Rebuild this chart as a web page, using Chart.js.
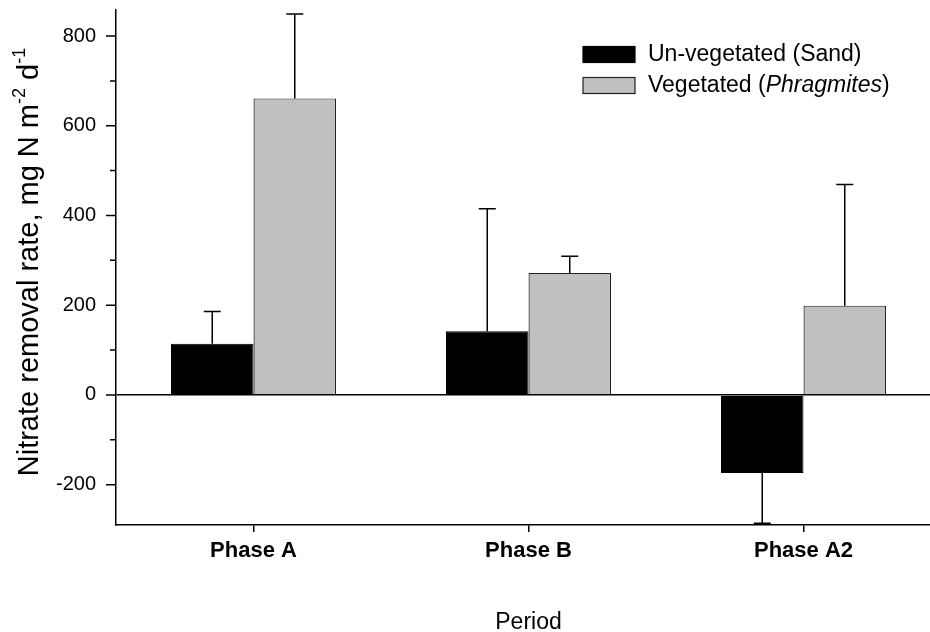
<!DOCTYPE html>
<html lang="en">
<head>
    <meta charset="UTF-8">
    <title>Nitrate removal rate</title>
    <style>
        html, body { margin: 0; padding: 0; background: #fff; overflow: hidden; }
        #wrap { width: 941px; height: 632px; }
    </style>
</head>
<body>
    <div id="wrap"><canvas id="myChart"></canvas></div>

    <script src="https://cdn.jsdelivr.net/npm/chart.js@4/dist/chart.umd.min.js"></script>
    <script>
    // data
    const categories = ['Phase A', 'Phase B', 'Phase A2'];
    const sandValues = [114, 142, -174];
    const sandErrors = [72, 273, 112];
    const reedValues = [661, 272, 199];
    const reedErrors = [188, 37, 270];
    const yTicks = [-200, 0, 200, 400, 600, 800];
    const yMinorTicks = [-100, 100, 300, 500, 700];

    const FONT = '"Liberation Sans", Arial, Helvetica, sans-serif';

    // one-sided error bars, drawn away from zero
    const errorBarPlugin = {
        id: 'errorBars',
        afterDatasetsDraw(chart) {
            const ctx = chart.ctx;
            const y = chart.scales.y;
            ctx.save();
            ctx.strokeStyle = '#000';
            ctx.lineWidth = 1.5;
            chart.data.datasets.forEach(function (ds, i) {
                const meta = chart.getDatasetMeta(i);
                meta.data.forEach(function (bar, j) {
                    const v = ds.data[j];
                    const e = ds.errors[j];
                    const end = v >= 0 ? v + e : v - e;
                    const y0 = y.getPixelForValue(v);
                    const y1 = y.getPixelForValue(end);
                    ctx.beginPath();
                    ctx.moveTo(bar.x, y0);
                    ctx.lineTo(bar.x, y1);
                    ctx.moveTo(bar.x - 8.5, y1);
                    ctx.lineTo(bar.x + 8.5, y1);
                    ctx.stroke();
                });
            });
            ctx.restore();
        }
    };

    // major / minor tick marks on the y axis
    const yTickPlugin = {
        id: 'yTickMarks',
        afterDraw(chart) {
            const ctx = chart.ctx;
            const y = chart.scales.y;
            const left = chart.chartArea.left;
            ctx.save();
            ctx.strokeStyle = '#000';
            ctx.lineWidth = 1.5;
            ctx.beginPath();
            yTicks.forEach(function (v) {
                const p = y.getPixelForValue(v);
                ctx.moveTo(left - 10, p);
                ctx.lineTo(left, p);
            });
            yMinorTicks.forEach(function (v) {
                const p = y.getPixelForValue(v);
                ctx.moveTo(left - 6, p);
                ctx.lineTo(left, p);
            });
            ctx.stroke();
            ctx.restore();
        }
    };

    // rotated y title with superscripts
    const yTitlePlugin = {
        id: 'yTitle',
        afterDraw(chart) {
            const ctx = chart.ctx;
            const parts = [
                ['Nitrate removal rate, mg N m', false],
                ['-2', true],
                [' d', false],
                ['-1', true]
            ];
            const big = '29px ' + FONT;
            const small = '18px ' + FONT;
            ctx.save();
            let total = 0;
            parts.forEach(function (p) {
                ctx.font = p[1] ? small : big;
                total += ctx.measureText(p[0]).width;
            });
            ctx.translate(30, 262);
            ctx.rotate(-Math.PI / 2);
            ctx.fillStyle = '#000';
            ctx.textBaseline = 'middle';
            let x = -total / 2;
            parts.forEach(function (p) {
                ctx.font = p[1] ? small : big;
                ctx.fillText(p[0], x, p[1] ? -10 : 0);
                x += ctx.measureText(p[0]).width;
            });
            ctx.restore();
        }
    };

    // legend with italic genus name
    const legendPlugin = {
        id: 'customLegend',
        afterDraw(chart) {
            const ctx = chart.ctx;
            const rows = [
                [['Un-vegetated (Sand)', '']],
                [['Vegetated (', ''], ['Phragmites', 'italic '], [')', '']]
            ];
            ctx.save();
            ctx.textBaseline = 'middle';
            rows.forEach(function (row, i) {
                const ds = chart.data.datasets[i];
                const cy = 54.5 + i * 31;
                ctx.fillStyle = ds.backgroundColor;
                ctx.fillRect(583, cy - 8, 52, 16);
                ctx.strokeStyle = ds.borderColor;
                ctx.lineWidth = 1.2;
                ctx.strokeRect(583, cy - 8, 52, 16);
                let x = 648;
                ctx.fillStyle = '#000';
                row.forEach(function (seg) {
                    ctx.font = seg[1] + '23px ' + FONT;
                    ctx.fillText(seg[0], x, cy);
                    x += ctx.measureText(seg[0]).width;
                });
            });
            ctx.restore();
        }
    };

    const ctx = document.getElementById('myChart').getContext('2d');
    const myChart = new Chart(ctx, {
        type: 'bar',
        data: {
            labels: categories,
            datasets: [{
                label: 'Un-vegetated (Sand)',
                data: sandValues,
                errors: sandErrors,
                backgroundColor: '#000000',
                borderColor: '#000000',
                borderWidth: 1
            }, {
                label: 'Vegetated (Phragmites)',
                data: reedValues,
                errors: reedErrors,
                backgroundColor: '#c0c0c0',
                borderColor: '#222222',
                borderWidth: 1.2
            }]
        },
        options: {
            responsive: true,
            maintainAspectRatio: false,
            animation: false,
            categoryPercentage: 0.6,
            barPercentage: 1.0,
            layout: { padding: { top: 10, left: 0, right: 0, bottom: 0 } },
            plugins: {
                legend: { display: false },
                tooltip: { enabled: false }
            },
            scales: {
                x: {
                    grid: {
                        offset: false,
                        drawOnChartArea: false,
                        drawTicks: true,
                        tickLength: 7,
                        color: '#000',
                        lineWidth: 1.5
                    },
                    border: { display: true, color: '#000', width: 1.5 },
                    ticks: {
                        color: '#000',
                        padding: 6,
                        font: { family: FONT, size: 22, weight: 'bold' }
                    },
                    title: {
                        display: true,
                        text: 'Period',
                        color: '#000',
                        padding: { top: 0, bottom: -4 },
                        font: { family: FONT, size: 23 }
                    },
                    afterFit(scale) {
                        scale.height = 107;
                        scale.paddingLeft = 0;
                        scale.paddingRight = 0;
                    }
                },
                y: {
                    min: -290,
                    max: 858,
                    afterBuildTicks(scale) {
                        scale.ticks = yTicks.map(function (v) { return { value: v }; });
                    },
                    grid: {
                        drawTicks: false,
                        color(c) { return c.tick && c.tick.value === 0 ? '#000' : 'rgba(0,0,0,0)'; },
                        lineWidth: 1.5
                    },
                    border: { display: true, color: '#000', width: 1.5 },
                    ticks: {
                        color: '#000',
                        padding: 20,
                        font: { family: FONT, size: 20 }
                    },
                    afterFit(scale) {
                        scale.width = 116;
                        scale.paddingTop = 0;
                        scale.paddingBottom = 0;
                    }
                }
            }
        },
        plugins: [errorBarPlugin, yTickPlugin, yTitlePlugin, legendPlugin]
    });
    </script>
</body>
</html>
